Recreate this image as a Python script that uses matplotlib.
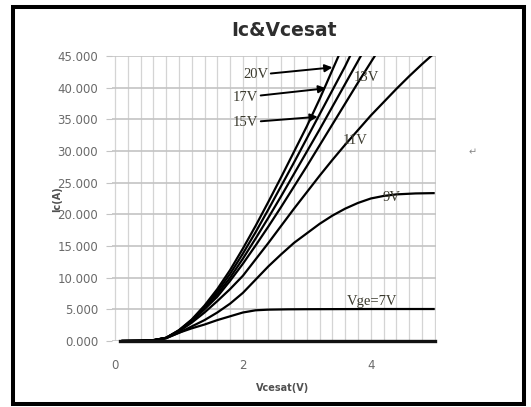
import numpy as np
import matplotlib
matplotlib.use("Agg")
import matplotlib.pyplot as plt
from matplotlib.patches import Rectangle
from matplotlib.ticker import MultipleLocator, FormatStrFormatter

# Ic vs Vcesat curves, one per gate voltage
vce_0 = [0.08, 5.0]
ic_0 = [0.0, 0.0]

vce_7 = [0.1, 0.4, 0.6, 0.8, 1.0, 1.2, 1.4, 1.6, 1.8, 2.0, 2.2, 2.4, 2.7, 3.0, 4.0, 5.0]
ic_7 = [0.0, 0.03, 0.12, 0.45, 1.3, 2.0, 2.6, 3.3, 3.9, 4.5, 4.85, 4.95, 5.0, 5.02, 5.05, 5.05]

vce_9 = [0.1, 0.4, 0.6, 0.8, 1.0, 1.2, 1.4, 1.6, 1.8, 2.0, 2.2, 2.4, 2.6, 2.8,
         3.0, 3.2, 3.4, 3.6, 3.8, 4.0, 4.2, 4.4, 4.7, 5.0]
ic_9 = [0.0, 0.03, 0.12, 0.45, 1.3, 2.3, 3.3, 4.5, 5.9, 7.6, 9.7, 11.8, 13.7, 15.5,
        17.0, 18.5, 19.8, 20.9, 21.8, 22.5, 22.9, 23.15, 23.3, 23.35]

vce_11 = [0.1, 0.4, 0.6, 0.8, 1.0, 1.2, 1.4, 1.6, 1.8, 2.0, 2.2, 2.4, 2.6, 2.8,
          3.0, 3.2, 3.4, 3.6, 3.8, 4.0, 4.2, 4.4, 4.6, 4.8, 5.0]
ic_11 = [0.0, 0.03, 0.12, 0.5, 1.5, 2.9, 4.5, 6.3, 8.2, 10.3, 12.9, 15.5, 18.2, 20.9,
         23.5, 26.1, 28.6, 31.0, 33.3, 35.6, 37.7, 39.8, 41.8, 43.7, 45.5]

vce_13 = [0.1, 0.4, 0.6, 0.8, 1.0, 1.2, 1.4, 1.6, 1.8, 2.0, 2.2, 2.4, 2.6, 2.8,
          3.0, 3.2, 3.4, 3.6, 3.8, 4.0, 4.1]
ic_13 = [0.0, 0.03, 0.12, 0.5, 1.6, 3.1, 5.0, 7.0, 9.5, 12.2, 15.1, 18.1, 21.2, 24.4,
         27.6, 30.9, 34.2, 37.5, 40.8, 44.0, 45.6]

vce_15 = [0.1, 0.4, 0.6, 0.8, 1.0, 1.2, 1.4, 1.6, 1.8, 2.0, 2.2, 2.4, 2.6, 2.8,
          3.0, 3.2, 3.4, 3.6, 3.8, 3.9]
ic_15 = [0.0, 0.03, 0.12, 0.5, 1.6, 3.2, 5.2, 7.4, 10.0, 13.0, 16.2, 19.5, 22.9, 26.4,
         29.9, 33.4, 37.0, 40.6, 44.2, 46.0]

vce_17 = [0.1, 0.4, 0.6, 0.8, 1.0, 1.2, 1.4, 1.6, 1.8, 2.0, 2.2, 2.4, 2.6, 2.8,
          3.0, 3.2, 3.4, 3.6, 3.7]
ic_17 = [0.0, 0.03, 0.12, 0.5, 1.7, 3.3, 5.4, 7.8, 10.6, 13.8, 17.2, 20.8, 24.5, 28.2,
         32.0, 35.8, 39.6, 43.4, 45.5]

vce_20 = [0.1, 0.4, 0.6, 0.8, 1.0, 1.2, 1.4, 1.6, 1.8, 2.0, 2.2, 2.4, 2.6, 2.8,
          3.0, 3.2, 3.4, 3.5]
ic_20 = [0.0, 0.03, 0.12, 0.5, 1.7, 3.4, 5.6, 8.2, 11.2, 14.6, 18.2, 22.0, 25.9, 29.9,
         33.9, 38.2, 42.8, 45.1]

y_ticks = [0, 5, 10, 15, 20, 25, 30, 35, 40, 45]
x_ticks = [0, 2, 4]

W, H = 531, 407
fig = plt.figure(figsize=(W / 100, H / 100), dpi=100)
ax = fig.add_axes([112 / W, 1 - 341 / H, 324 / W, 285 / H])

ax.set_xlim(-0.047, 5.02)
ax.set_ylim(0, 45)

ax.xaxis.set_major_locator(MultipleLocator(2))
ax.xaxis.set_minor_locator(MultipleLocator(0.2))
ax.set_xticks(x_ticks)
ax.set_yticks(y_ticks)
ax.yaxis.set_major_formatter(FormatStrFormatter("%.3f"))

ax.grid(axis="x", which="both", color="#d4d4d4", lw=0.9)
ax.grid(axis="y", which="major", color="#c4c4c4", lw=1.2)
ax.set_axisbelow(True)
for s in ax.spines.values():
    s.set_visible(False)

ax.tick_params(axis="y", length=4, color="#c4c4c4", labelsize=8.5,
               labelcolor="#6a6a6a", pad=6)
ax.tick_params(axis="x", which="both", length=0, labelsize=8.5,
               labelcolor="#6a6a6a", pad=13)

curves = [(vce_7, ic_7), (vce_9, ic_9), (vce_11, ic_11), (vce_13, ic_13),
          (vce_15, ic_15), (vce_17, ic_17), (vce_20, ic_20)]
for v, i in curves:
    ax.plot(v, i, color="black", lw=1.6, solid_capstyle="butt")
ax.plot(vce_0, ic_0, color="#111111", lw=2.4, clip_on=False)

lab = dict(family="Liberation Serif", fontsize=10.5, color="#3b3a2e")
ax.text(3.74, 41.6, "13V", va="center", **lab)
ax.text(3.56, 31.7, "11V", va="center", **lab)
ax.text(4.19, 22.7, "9V", va="center", **lab)
ax.text(3.62, 6.2, "Vge=7V", va="center", **lab)

arrow = dict(arrowstyle="-|>", color="black", lw=1.4, mutation_scale=11,
             shrinkA=0, shrinkB=0)
ax.annotate("20V", xy=(3.40, 43.2), xytext=(2.0, 42.0), va="center",
            arrowprops=arrow, **lab)
ax.annotate("17V", xy=(3.30, 39.9), xytext=(1.84, 38.5), va="center",
            arrowprops=arrow, **lab)
ax.annotate("15V", xy=(3.17, 35.4), xytext=(1.84, 34.5), va="center",
            arrowprops=arrow, **lab)

fig.text(284 / W, 1 - 30 / H, "Ic&Vcesat", ha="center", va="center",
         fontsize=13.5, fontweight="bold", color="#2e2e2e")
fig.text(283 / W, 1 - 388 / H, "Vcesat(V)", ha="center", va="center",
         fontsize=7, fontweight="bold", color="#505050")
fig.text(57 / W, 1 - 199 / H, "Ic(A)", ha="center", va="center", rotation=90,
         fontsize=7, fontweight="bold", color="#505050")
fig.text(473 / W, 1 - 152 / H, "\u21b5", ha="center", va="center",
         fontsize=7, color="#888888")

fig.patches.append(Rectangle((13 / W, 1 - 403.5 / H), 511 / W, 396.5 / H,
                             transform=fig.transFigure, fill=False,
                             edgecolor="black", lw=2.9))

fig.savefig("out.png", dpi=100)
